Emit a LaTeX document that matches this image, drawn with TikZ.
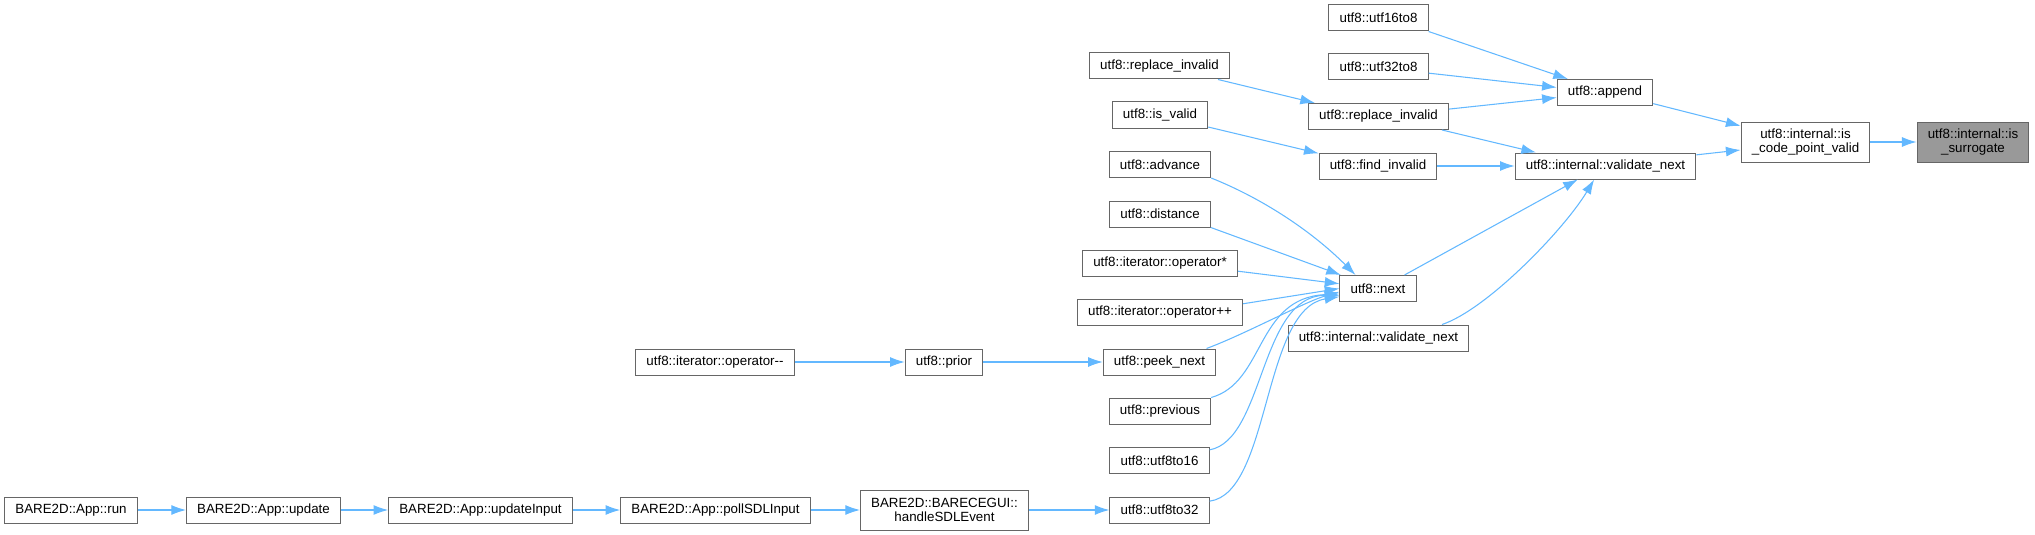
\documentclass[tikz,border=0pt]{standalone}
\usepackage{fontspec}
\setmainfont{Liberation Sans}
\usetikzlibrary{arrows.meta}
\definecolor{edgeblue}{HTML}{63B8FF}
\definecolor{boxline}{HTML}{666666}
\definecolor{hlfill}{HTML}{999999}
\tikzset{
  fn/.style={draw=boxline, line width=0.75pt, fill=white, inner xsep=8pt, inner ysep=0pt,
    minimum height=19.5pt, font=\fontsize{10}{11}\selectfont, align=center},
  fntwo/.style={fn, minimum height=30pt},
  hl/.style={fntwo, fill=hlfill},
  call/.style={draw=edgeblue, line width=0.8pt, -{Latex[length=11pt,width=7.5pt]}}
}
\begin{document}
\begin{tikzpicture}[x=0.75pt, y=-0.75pt]
  \useasboundingbox (0,0) rectangle (2035,535);
  % callee side
  \node[hl] (issurrogate) at (1973,142) {utf8::internal::is\\\_surrogate};
  \node[fntwo] (iscpvalid) at (1805.5,142) {utf8::internal::is\\\_code\_point\_valid};
  \node[fn] (append) at (1605,92.5) {utf8::append};
  \node[fn] (valnext) at (1605.5,166) {utf8::internal::validate\_next};
  \node[fn] (utf16to8) at (1378.5,18) {utf8::utf16to8};
  \node[fn] (utf32to8) at (1378.5,67) {utf8::utf32to8};
  \node[fn] (repinv) at (1378.5,116.5) {utf8::replace\_invalid};
  \node[fn] (findinv) at (1378,166) {utf8::find\_invalid};
  \node[fn] (next) at (1378,288.5) {utf8::next};
  \node[fn] (valnextb) at (1378.5,338) {utf8::internal::validate\_next};
  % callers of the middle column
  \node[fn] (repinvl) at (1159.5,66) {utf8::replace\_invalid};
  \node[fn] (isvalid) at (1160,115) {utf8::is\_valid};
  \node[fn] (advance) at (1160,164.5) {utf8::advance};
  \node[fn] (distance) at (1160,214) {utf8::distance};
  \node[fn] (opstar) at (1160,263) {utf8::iterator::operator*};
  \node[fn] (opinc) at (1160,312.5) {utf8::iterator::operator++};
  \node[fn] (peeknext) at (1159.5,362) {utf8::peek\_next};
  \node[fn] (previous) at (1160,411) {utf8::previous};
  \node[fn] (utf8to16) at (1159.5,460.5) {utf8::utf8to16};
  \node[fn] (utf8to32) at (1159.5,510) {utf8::utf8to32};
  \node[fn] (prior) at (944,362) {utf8::prior};
  \node[fn] (opdec) at (715,362) {utf8::iterator::operator-\kern0pt-};
  % BARE2D chain
  \node[fntwo] (handle) at (944.5,510) {BARE2D::BARECEGUI::\\handleSDLEvent};
  \node[fn] (poll) at (715.5,510) {BARE2D::App::pollSDLInput};
  \node[fn] (updinput) at (480.5,510) {BARE2D::App::updateInput};
  \node[fn] (update) at (263.5,510) {BARE2D::App::update};
  \node[fn] (run) at (71,510) {BARE2D::App::run};

  \draw[call] (iscpvalid.east) -- (issurrogate.west);
  \draw[call] (append.-13) -- (iscpvalid.166);
  \draw[call] (valnext.7) -- (iscpvalid.187);
  \draw[call] (utf16to8.south east) -- (append.160);
  \draw[call] (utf32to8.-7) -- (append.174);
  \draw[call] (repinv.6) -- (append.186);
  \draw[call] (repinv.-12) -- (valnext.169);
  \draw[call] (findinv.east) -- (valnext.west);
  \draw[call] (next.27) -- (valnext.206);
  \draw[call] (valnextb.12) .. controls +(45,-15) and +(-30,50) .. (valnext.230);
  \draw[call] (repinvl.-13) -- (repinv.168);
  \draw[call] (isvalid.-14) -- (findinv.168);
  \draw[call] (advance.south east) .. controls +(50,20) and +(-45,-45) .. (next.149);
  \draw[call] (distance.south east) -- (next.160);
  \draw[call] (opstar.-6) -- (next.173);
  \draw[call] (opinc.6) -- (next.180);
  \draw[call] (peeknext.16) .. controls +(40,-15) and +(-35,10) .. (next.185);
  \draw[call] (previous.north east) .. controls +(54,-15) and +(-84,4) .. (next.188);
  \draw[call] (utf8to16.12) .. controls +(55,-10) and +(-80,0) .. (next.190);
  \draw[call] (utf8to32.10) .. controls +(61,-8) and +(-77,12) .. (next.192);
  \draw[call] (prior.east) -- (peeknext.west);
  \draw[call] (opdec.east) -- (prior.west);
  \draw[call] (handle.east) -- (utf8to32.west);
  \draw[call] (poll.east) -- (handle.west);
  \draw[call] (updinput.east) -- (poll.west);
  \draw[call] (update.east) -- (updinput.west);
  \draw[call] (run.east) -- (update.west);
\end{tikzpicture}
\end{document}
